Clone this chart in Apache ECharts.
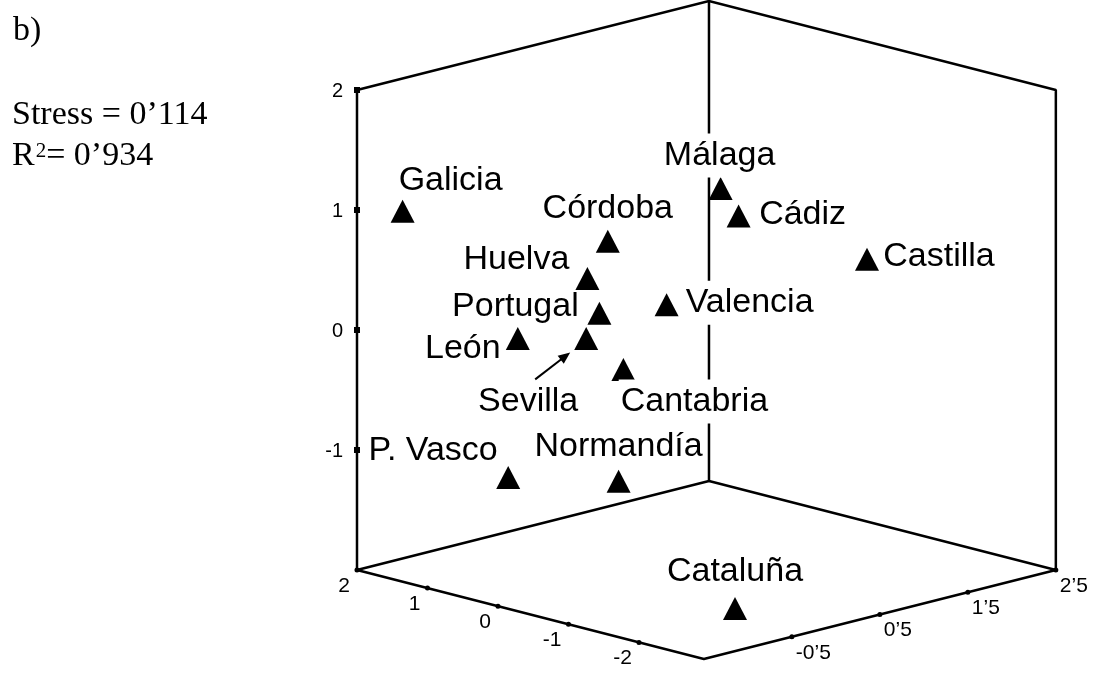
<!DOCTYPE html>
<html>
<head>
<meta charset="utf-8">
<script src="https://cdn.jsdelivr.net/npm/echarts@6/dist/echarts.min.js"></script>
<style>
  html, body { margin: 0; padding: 0; background: #fff; }
  #chart { width: 1097px; height: 674px; }
</style>
</head>
<body>
<div id="chart"></div>
<script>
// Regions of the MDS solution. Positions are given in the projected plot plane:
// horizontal and vertical, both in units of the vertical axis (0 = left axis line / level 0).
const regions = ['Galicia', 'Córdoba', 'Huelva', 'Málaga', 'Cádiz', 'Castilla', 'Portugal',
                 'Valencia', 'León', 'Sevilla', 'Cantabria', 'P. Vasco', 'Normandía', 'Cataluña'];
const planeH = [0.38, 2.09, 1.92, 3.03, 3.18, 4.25, 2.02, 2.58, 1.34, 1.91, 2.22, 1.26, 2.18, 3.15];
const planeV = [0.99, 0.74, 0.43, 1.18, 0.95, 0.59, 0.14, 0.21, -0.07, -0.07, -0.33, -1.23, -1.26, -2.32];

// Ranges of the three axes of the box: depth axis A (left floor edge),
// depth axis B (right floor edge) and the vertical axis V.
const rangeA = [2, -2.92];
const rangeB = [-1.5, 2.5];
const rangeV = [-2, 2];

// Tick values and their printed labels
const ticksV = [2, 1, 0, -1];
const tickLabelsV = ['2', '1', '0', '-1'];
const ticksA = [2, 1, 0, -1, -2];
const tickLabelsA = ['2', '1', '0', '-1', '-2'];
const ticksB = [-0.5, 0.5, 1.5, 2.5];
const tickLabelsB = ['-0’5', '0’5', '1’5', '2’5'];

// Fit statistics
const panelTag = 'b)';
const stressText = 'Stress = 0’114';
const rsqValue = '0’934';

// ---- layout / style ----
const SANS = '"Liberation Sans", Arial, sans-serif';
const SERIF = '"Liberation Serif", "Times New Roman", serif';

// Oblique direction of the depth axes in the plot plane (per unit of A and of B)
const DIR_A = [-0.5875, 0.1508];
const DIR_B = [0.7333, 0.1854];

// Project a box point (a, b, v) onto the plot plane; the left vertical axis sits at a = rangeA[0], b = rangeB[0]
function proj(a, b, v) {
  const da = a - rangeA[0], db = b - rangeB[0];
  return [da * DIR_A[0] + db * DIR_B[0], v + da * DIR_A[1] + db * DIR_B[1]];
}

// Label placement around each marker, in pixels (text centre relative to the marker)
const labelOffset = {
  'Galicia': [48, -31], 'Córdoba': [0, -33], 'Huelva': [-71, -19], 'Málaga': [-1, -33],
  'Cádiz': [64, -1], 'Castilla': [72, -3], 'Portugal': [-84, -7], 'Valencia': [83, -2],
  'León': [-55, 10], 'Sevilla': [-58, 63], 'Cantabria': [71, 32], 'P. Vasco': [-75, -27],
  'Normandía': [0, -35], 'Cataluña': [0, -37]
};
// Labels that sit over a box edge get a white backing
const maskedLabels = ['Málaga', 'Valencia', 'Cantabria'];

const A0 = rangeA[0], A1 = rangeA[1], B0 = rangeB[0], B1 = rangeB[1], V0 = rangeV[0], V1 = rangeV[1];
const LB = proj(A0, B0, V0), LT = proj(A0, B0, V1);
const BB = proj(A0, B1, V0), BT = proj(A0, B1, V1);
const RB = proj(A1, B1, V0), RT = proj(A1, B1, V1);
const FB = proj(A1, B0, V0);

const edgeStyle = { color: '#000', width: 2.5, opacity: 1 };
function edge(points) {
  return {
    type: 'line', data: points, symbol: 'none', clip: false, z: 1,
    lineStyle: edgeStyle, silent: true
  };
}

const pointData = regions.map((name, i) => ({
  name: name,
  value: [planeH[i], planeV[i]],
  label: {
    offset: labelOffset[name],
    backgroundColor: maskedLabels.includes(name) ? '#fff' : 'transparent',
    padding: maskedLabels.includes(name) ? [5, 2] : 0
  }
}));

const sevIdx = regions.indexOf('Sevilla');

const solidBlack = { color: '#000', opacity: 1 };
const tickLabelStyle = { color: '#000', opacity: 1, fontFamily: SANS };

const option = {
  backgroundColor: '#fff',
  animation: false,
  grid: { left: 0, right: 0, top: 0, bottom: 0 },
  xAxis: { type: 'value', min: -2.975, max: 6.16667, show: false },
  yAxis: { type: 'value', min: -2.86667, max: 2.75, show: false },
  graphic: [
    { type: 'text', x: 13, y: 31, style: { text: panelTag, font: '34px ' + SERIF, fill: '#000', verticalAlign: 'middle' } },
    { type: 'text', x: 12, y: 115, style: { text: stressText, font: '34px ' + SERIF, fill: '#000', verticalAlign: 'middle' } },
    { type: 'text', x: 12, y: 156, style: {
        text: '{r|R}{s|2}{r|= ' + rsqValue + '}',
        verticalAlign: 'middle', fill: '#000',
        rich: {
          r: { fontSize: 34, fontFamily: SERIF, color: '#000' },
          s: { fontSize: 21, fontFamily: SERIF, color: '#000', verticalAlign: 'top', padding: [2, 0, 0, 1] }
        }
      } }
  ],
  series: [
    edge([LB, LT, BT, RT, RB, FB, LB]),
    edge([LB, BB, RB]),
    edge([BB, BT]),
    {
      // vertical axis ticks
      type: 'scatter', z: 2, silent: true,
      data: ticksV.map(t => proj(A0, B0, t)),
      symbol: 'rect', symbolSize: 6, itemStyle: solidBlack,
      label: {
        show: true, position: 'inside', align: 'right', verticalAlign: 'middle',
        offset: [-14, 1], fontSize: 20, ...tickLabelStyle,
        formatter: p => tickLabelsV[p.dataIndex]
      }
    },
    {
      // depth axis A ticks (left floor edge)
      type: 'scatter', z: 2, silent: true,
      data: ticksA.map(t => proj(t, B0, V0)),
      symbol: 'circle', symbolSize: 5, itemStyle: solidBlack,
      label: {
        show: true, position: 'inside', align: 'right', verticalAlign: 'middle',
        offset: [-7, 16], fontSize: 21, ...tickLabelStyle,
        formatter: p => tickLabelsA[p.dataIndex]
      }
    },
    {
      // depth axis B ticks (right floor edge)
      type: 'scatter', z: 2, silent: true,
      data: ticksB.map(t => proj(A1, t, V0)),
      symbol: 'circle', symbolSize: 5, itemStyle: solidBlack,
      label: {
        show: true, position: 'inside', align: 'left', verticalAlign: 'middle',
        offset: [4, 16], fontSize: 21, ...tickLabelStyle,
        formatter: p => tickLabelsB[p.dataIndex]
      }
    },
    {
      // regions
      type: 'scatter', z: 3,
      data: pointData,
      symbol: 'triangle', symbolSize: [24, 23],
      itemStyle: solidBlack,
      emphasis: { disabled: true },
      label: {
        show: true, position: 'inside', align: 'center', verticalAlign: 'middle',
        fontSize: 34, color: '#000', opacity: 1, fontFamily: SANS,
        formatter: p => p.name
      }
    },
    {
      // pointer from the Sevilla label to its marker
      type: 'custom', z: 4, silent: true,
      data: [[planeH[sevIdx], planeV[sevIdx]]],
      renderItem: function (params, api) {
        const p = api.coord([api.value(0), api.value(1)]);
        const s = [p[0] - 51, p[1] + 41];
        const e = [p[0] - 16, p[1] + 14];
        const dx = e[0] - s[0], dy = e[1] - s[1];
        const len = Math.sqrt(dx * dx + dy * dy);
        const ux = dx / len, uy = dy / len;
        const headL = 12, headW = 5;
        const base = [e[0] - ux * headL, e[1] - uy * headL];
        return {
          type: 'group',
          children: [
            { type: 'line', shape: { x1: s[0], y1: s[1], x2: base[0] + ux * 2, y2: base[1] + uy * 2 },
              style: { stroke: '#000', lineWidth: 2 } },
            { type: 'polygon', shape: { points: [e,
                [base[0] - uy * headW, base[1] + ux * headW],
                [base[0] + uy * headW, base[1] - ux * headW]] },
              style: { fill: '#000' } }
          ]
        };
      }
    }
  ]
};

const chart = echarts.init(document.getElementById('chart'), null, { renderer: 'canvas' });
chart.setOption(option);
</script>
</body>
</html>
